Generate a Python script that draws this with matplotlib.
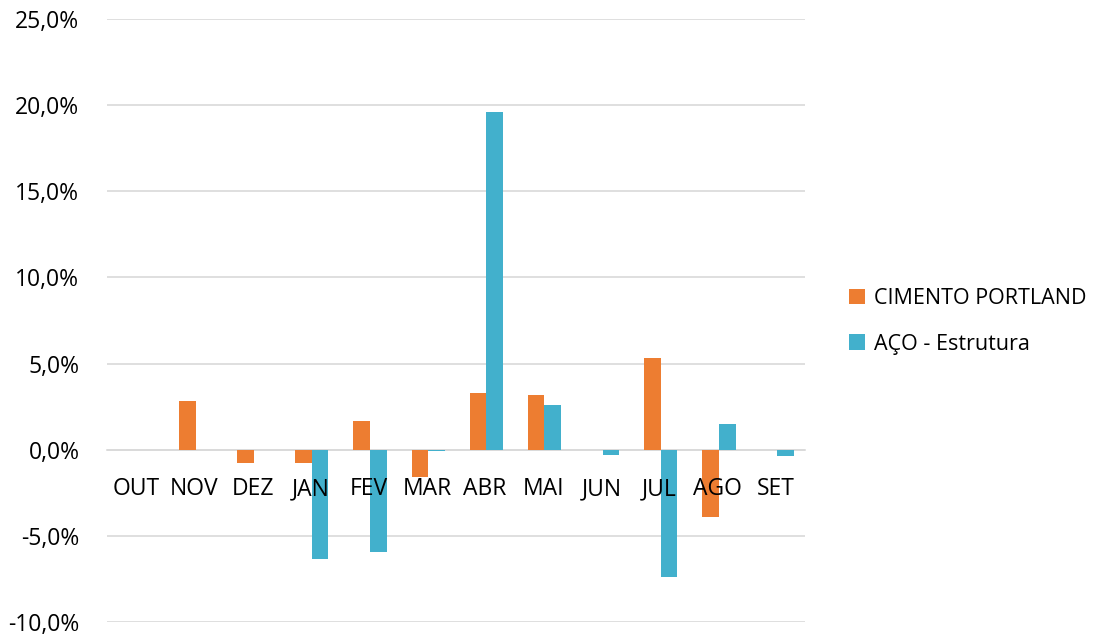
import matplotlib.pyplot as plt
import numpy as np
from matplotlib.ticker import FuncFormatter, MultipleLocator

plt.rcParams['font.family'] = ['Open Sans', 'DejaVu Sans']

meses = ["OUT", "NOV", "DEZ", "JAN", "FEV", "MAR", "ABR", "MAI", "JUN", "JUL", "AGO", "SET"]
cimento = [0.0, 2.8, -0.8, -0.8, 1.65, -1.6, 3.3, 3.15, 0.0, 5.35, -3.9, 0.0]
aco = [0.0, 0.0, 0.0, -6.35, -5.95, -0.1, 19.6, 2.6, -0.3, -7.4, 1.5, -0.35]

fig = plt.figure(figsize=(11.05, 6.35), dpi=100)
ax = fig.add_axes([0.097, 0.0205, 0.6315, 0.9495])

x = np.arange(len(meses))
w = 0.285
ax.bar(x - w / 2 + 0.02, cimento, w, color="#ED7D31", label="CIMENTO PORTLAND", zorder=3)
ax.bar(x + w / 2 + 0.02, aco, w, color="#42B0CC", label="AÇO - Estrutura", zorder=3)

ax.set_ylim(-10, 25)
ax.set_xlim(-0.5, len(meses) - 0.5)
ax.yaxis.set_major_locator(MultipleLocator(5))
ax.yaxis.set_major_formatter(FuncFormatter(lambda v, p: f"{v:.1f}%".replace(".", ",")))
ax.grid(axis="y", color="#d9d9d9", lw=1.2)
ax.yaxis.set_zorder(0)
ax.xaxis.set_zorder(5)

for s in ["top", "right", "left"]:
    ax.spines[s].set_visible(False)
ax.spines["bottom"].set_position(("data", 0))
ax.spines["bottom"].set_color("#d9d9d9")
ax.spines["bottom"].set_linewidth(1.2)
ax.spines["bottom"].set_zorder(1)

ax.set_xticks(x)
ax.set_xticklabels(meses)
ax.tick_params(axis="x", length=0, pad=20, labelsize=16.5)
ax.tick_params(axis="y", length=0, pad=20, labelsize=16.5)

fig.legend(loc="center left", bbox_to_anchor=(0.751, 0.494), frameon=False,
           fontsize=15.5, handlelength=0.75, handleheight=0.75, handletextpad=0.4,
           labelspacing=1.15)

fig.savefig("out.png", dpi=100)
